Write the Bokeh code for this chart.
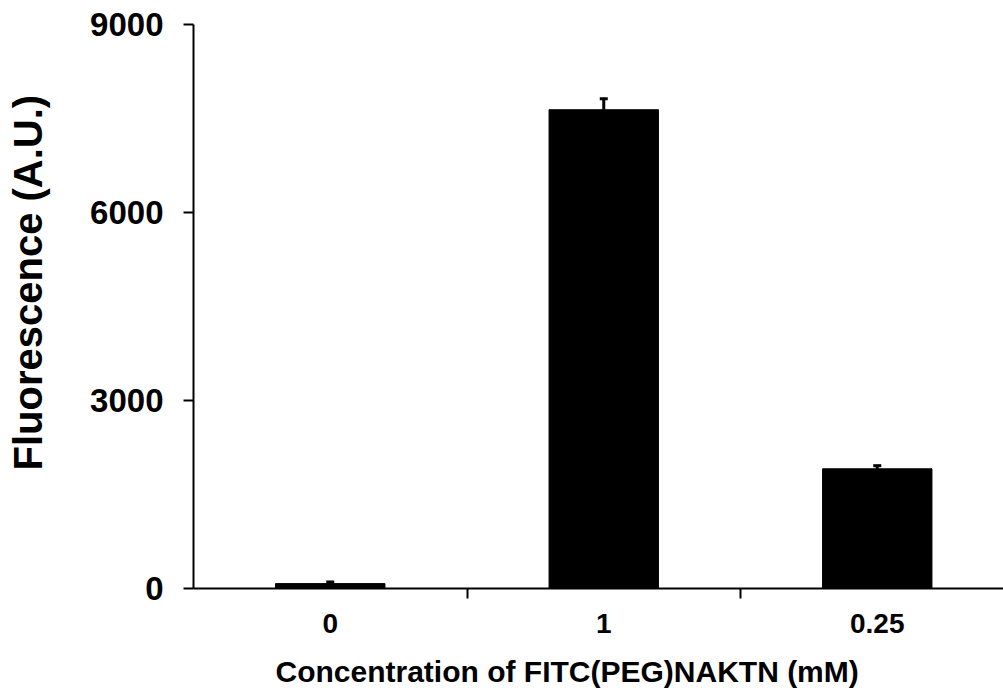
from bokeh.plotting import figure
from bokeh.models import FixedTicker, Range1d, ColumnDataSource, Whisker, TeeHead, LinearAxis, Title
from bokeh.embed import file_html
from bokeh.resources import INLINE

categories = ["0", "1", "0.25"]
values = [78, 7640, 1910]
errors = [25, 175, 50]
y_ticks = [0, 3000, 6000, 9000]
x_title = "Concentration of FITC(PEG)NAKTN (mM)"
y_title = "Fluorescence (A.U.)"

x = [i + 0.5 for i in range(len(categories))]
upper = [v + e for v, e in zip(values, errors)]
src = ColumnDataSource(dict(x=x, top=values, upper=upper))

FONT = "Liberation Sans"
W, H = 1003, 696
LEFT, TOP, BOTTOM = 193, 24, 108
CAT_PX = 273.5  # pixels per category
plot_w = W - LEFT

p = figure(width=W, height=H, output_backend="svg", toolbar_location=None,
           x_range=Range1d(0, plot_w / CAT_PX), y_range=Range1d(0, 9000),
           min_border_left=LEFT, min_border_top=TOP, min_border_right=0, min_border_bottom=BOTTOM)
p.outline_line_color = None
p.grid.grid_line_color = None
p.background_fill_color = "white"

p.vbar(x="x", top="top", width=0.4, bottom=0, source=src, color="black")
w = Whisker(base="x", lower="top", upper="upper", source=src, line_color="black", line_width=3,
            lower_head=None, upper_head=TeeHead(size=8, line_color="black", line_width=3))
p.add_layout(w)

# x axis
p.xaxis.ticker = FixedTicker(ticks=x, minor_ticks=[1, 2, 3])
p.xaxis.major_label_overrides = {xi: c for xi, c in zip(x, categories)}
p.xaxis.major_tick_line_color = None
p.xaxis.major_tick_out = 0
p.xaxis.major_tick_in = 0
p.xaxis.minor_tick_line_color = "black"
p.xaxis.minor_tick_line_width = 2
p.xaxis.minor_tick_out = 10
p.xaxis.minor_tick_in = 0
p.xaxis.axis_line_width = 2
p.xaxis.axis_line_color = "black"
p.xaxis.major_label_standoff = 15
p.xaxis.major_label_text_font = FONT
p.xaxis.major_label_text_font_style = "bold"
p.xaxis.major_label_text_font_size = "28px"
p.xaxis.major_label_text_color = "black"

# y axis
p.yaxis.ticker = FixedTicker(ticks=y_ticks, minor_ticks=[])
p.yaxis.major_tick_line_color = "black"
p.yaxis.major_tick_line_width = 2
p.yaxis.major_tick_out = 10
p.yaxis.major_tick_in = 0
p.yaxis.minor_tick_line_color = None
p.yaxis.axis_line_width = 2
p.yaxis.axis_line_color = "black"
p.yaxis.major_label_standoff = 20
p.yaxis.major_label_text_font = FONT
p.yaxis.major_label_text_font_style = "bold"
p.yaxis.major_label_text_font_size = "33px"
p.yaxis.major_label_text_color = "black"


def spacer(px):
    # an invisible axis used only as a gap between the tick labels and the title
    return LinearAxis(ticker=FixedTicker(ticks=[0], minor_ticks=[]), axis_line_color=None,
                      major_tick_line_color="white", minor_tick_line_color=None,
                      major_tick_out=px, major_tick_in=0, minor_tick_out=0, minor_tick_in=0,
                      major_label_standoff=0, major_label_text_font_size="0px",
                      major_label_text_alpha=0, major_label_overrides={0: ""})


p.add_layout(spacer(17), "below")
p.add_layout(Title(text=x_title, align="left", offset=82, standoff=4, vertical_align="top",
                   text_font=FONT, text_font_style="bold", text_font_size="30px",
                   text_color="black"), "below")
p.add_layout(spacer(36), "left")
p.add_layout(Title(text=y_title, align="left", offset=118, standoff=4, vertical_align="bottom",
                   text_font=FONT, text_font_style="bold", text_font_size="40px",
                   text_color="black"), "left")

open("out.html", "w").write(file_html(p, INLINE))
